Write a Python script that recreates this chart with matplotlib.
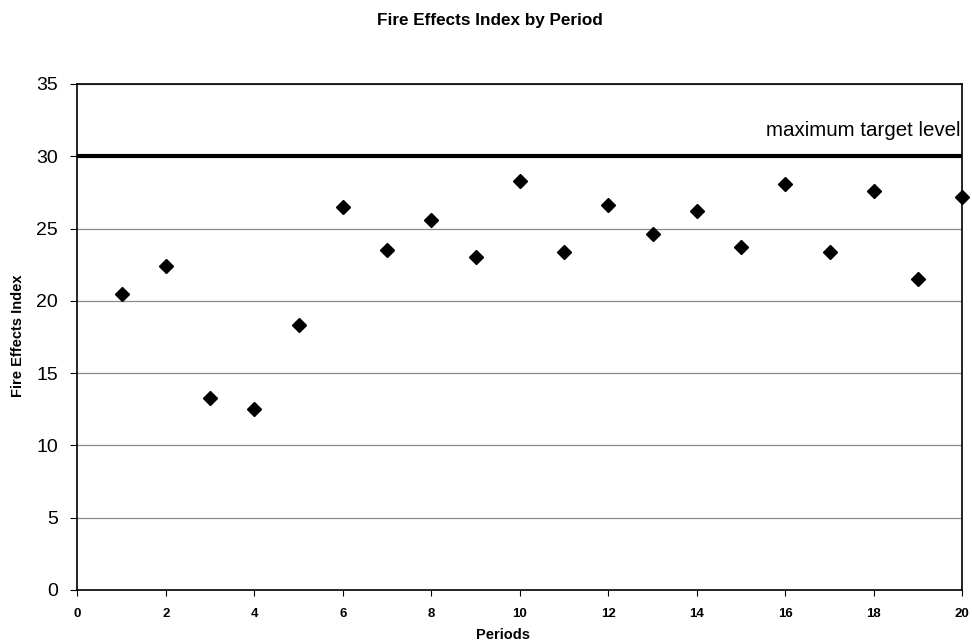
import matplotlib
matplotlib.use("Agg")
import matplotlib.pyplot as plt

plt.rcParams['font.family'] = ['Liberation Sans', 'DejaVu Sans']

periods = list(range(1, 21))
fei = [20.5, 22.4, 13.3, 12.5, 18.3, 26.5, 23.5, 25.6, 23.0, 28.3,
       23.4, 26.6, 24.6, 26.2, 23.7, 28.1, 23.4, 27.6, 21.5, 27.2]
target_level = 30
target_label = "maximum target level"
x_ticks = [0, 2, 4, 6, 8, 10, 12, 14, 16, 18, 20]
y_ticks = [0, 5, 10, 15, 20, 25, 30, 35]

fig = plt.figure(figsize=(9.72, 6.44), dpi=100)
ax = fig.add_axes([0.0796, 0.0839, 0.9104, 0.7857])

ax.set_xlim(0, 20)
ax.set_ylim(0, 35)
for y in y_ticks[1:]:
    ax.axhline(y, color='#8a8a8a', lw=0.9, zorder=1)
ax.axhline(target_level, color='black', lw=3, zorder=2)
ax.text(19.96, target_level + 1.8, target_label, ha='right', va='center',
        fontsize=14.8, color='black')
ax.plot(periods, fei, linestyle='none', marker='D', color='black',
        markersize=7.5, zorder=3, clip_on=False)

ax.set_xticks(x_ticks)
ax.set_yticks(y_ticks)
ax.tick_params(axis='y', labelsize=14, length=5, width=0.8, direction='out', pad=9)
ax.tick_params(axis='x', labelsize=9.5, length=4, width=0.8, direction='out', pad=9)
for lbl in ax.get_xticklabels():
    lbl.set_fontweight('bold')
for s in ax.spines.values():
    s.set_color('black')
    s.set_linewidth(1.2)

fig.text(0.5171, 1 - 635 / 644, 'Periods', ha='center', va='center',
         fontsize=10.5, fontweight='bold')
fig.text(18 / 972, 1 - 336 / 644, 'Fire Effects Index', ha='center', va='center',
         rotation=90, fontsize=10.5, fontweight='bold')
fig.text(490 / 972, 1 - 21 / 644, 'Fire Effects Index by Period', ha='center',
         va='center', fontsize=12.3, fontweight='bold')

fig.savefig('out.png', dpi=100, facecolor='white')
